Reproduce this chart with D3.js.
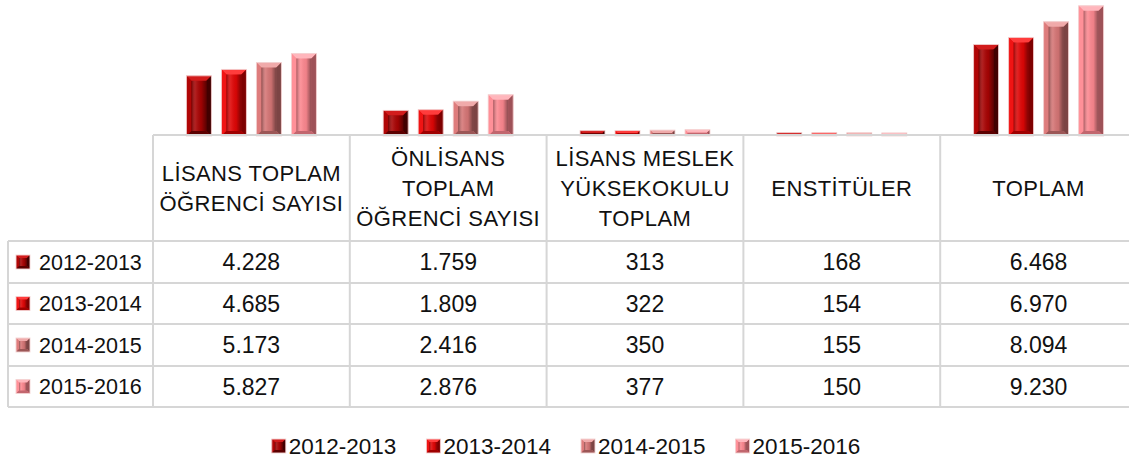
<!DOCTYPE html>
<html>
<head>
<meta charset="utf-8">
<title>Öğrenci Sayıları</title>
<script src="https://d3js.org/d3.v7.min.js"></script>
<style>
  body { margin: 0; background: #fff; }
  text { font-family: "Liberation Sans", Arial, sans-serif; fill: #111; }
</style>
</head>
<body>
<div id="chart"></div>
<script>
// data
const categories = [
  ["LİSANS TOPLAM", "ÖĞRENCİ SAYISI"],
  ["ÖNLİSANS", "TOPLAM", "ÖĞRENCİ SAYISI"],
  ["LİSANS MESLEK", "YÜKSEKOKULU", "TOPLAM"],
  ["ENSTİTÜLER"],
  ["TOPLAM"]
];
const years = ["2012-2013", "2013-2014", "2014-2015", "2015-2016"];
const v2012 = [4228, 1759, 313, 168, 6468];
const v2013 = [4685, 1809, 322, 154, 6970];
const v2014 = [5173, 2416, 350, 155, 8094];
const v2015 = [5827, 2876, 377, 150, 9230];
const series = [v2012, v2013, v2014, v2015];

// bevel colours per series: face, top, left, right, bottom
const palette = [
  {face: "#a80303", top: "#d21c1c", left: "#b00606", right: "#420000", bottom: "#5c0000"},
  {face: "#e00606", top: "#ff3c3c", left: "#f01414", right: "#7e0000", bottom: "#a00000"},
  {face: "#d67676", top: "#f0aaaa", left: "#de7c7c", right: "#7c4444", bottom: "#9c5656"},
  {face: "#fd8890", top: "#ffb6bc", left: "#ff9098", right: "#9e5258", bottom: "#c2666e"}
];

const W = 1129, H = 461;
const base = 135, tableRight = 1137, tableLeft = 153, labelLeft = 8;
const rowTops = [241, 283, 324, 366, 407];
const tr = d3.formatLocale({decimal: ",", thousands: ".", grouping: [3], currency: ["", ""]});
const fmt = tr.format(",d");

const svg = d3.select("#chart").append("svg")
  .attr("width", W).attr("height", H);

const x0 = d3.scaleBand()
  .domain(d3.range(categories.length))
  .range([tableLeft, tableRight]);

const bw = x0.bandwidth();
const x1 = d3.scaleBand()
  .domain(d3.range(years.length))
  .range([bw / 2 - 65, bw / 2 + 65])
  .paddingInner(0.286);

const y = d3.scaleLinear()
  .domain([0, 10000])
  .range([base, -5]);

function bevelBox(g, x, yTop, w, h, c, bv) {
  const b = Math.min(bv, h / 2, w / 2);
  const x2 = x + w, y2 = yTop + h;
  g.append("rect").attr("x", x).attr("y", yTop).attr("width", w).attr("height", h).attr("fill", c.face);
  const poly = (pts, fill) => g.append("polygon")
    .attr("points", pts.map(p => p.join(",")).join(" ")).attr("fill", fill);
  poly([[x, yTop], [x2, yTop], [x2 - b, yTop + b], [x + b, yTop + b]], c.top);
  poly([[x, yTop], [x + b, yTop + b], [x + b, y2 - b], [x, y2]], c.left);
  poly([[x2, yTop], [x2, y2], [x2 - b, y2 - b], [x2 - b, yTop + b]], c.right);
  poly([[x, y2], [x + b, y2 - b], [x2 - b, y2 - b], [x2, y2]], c.bottom);
  // inner face shading
  if (h > 2 * b + 2) {
    g.append("rect")
      .attr("x", x + b).attr("y", yTop + b)
      .attr("width", w - 2 * b).attr("height", h - 2 * b)
      .attr("fill", "url(#shade)");
  }
  g.append("rect").attr("x", x).attr("y", yTop).attr("width", w).attr("height", h)
    .attr("fill", "none").attr("stroke", "#f4d4d4").attr("stroke-width", 0.9);
}

const defs = svg.append("defs");
const grad = defs.append("linearGradient").attr("id", "shade").attr("x1", 0).attr("x2", 1);
grad.append("stop").attr("offset", 0).attr("stop-color", "#000").attr("stop-opacity", 0.35);
grad.append("stop").attr("offset", 0.3).attr("stop-color", "#fff").attr("stop-opacity", 0.1);
grad.append("stop").attr("offset", 0.65).attr("stop-color", "#000").attr("stop-opacity", 0.05);
grad.append("stop").attr("offset", 1).attr("stop-color", "#000").attr("stop-opacity", 0.45);

// bars
const bars = svg.append("g");
series.forEach((vals, si) => {
  vals.forEach((v, ci) => {
    const bx = x0(ci) + x1(si);
    const top = y(v);
    bevelBox(bars, bx, top, x1.bandwidth(), base - top + 1, palette[si], 5);
  });
});

// table grid
const grid = svg.append("g").attr("stroke", "#d6d6d6").attr("stroke-width", 2);
grid.append("line").attr("x1", tableLeft).attr("x2", tableRight).attr("y1", base).attr("y2", base);
rowTops.forEach(r => {
  grid.append("line").attr("x1", labelLeft).attr("x2", tableRight).attr("y1", r).attr("y2", r);
});
d3.range(categories.length + 1).forEach(i => {
  const xx = i < categories.length ? x0(i) : tableRight;
  grid.append("line").attr("x1", xx).attr("x2", xx).attr("y1", base).attr("y2", rowTops[rowTops.length - 1]);
});
grid.append("line").attr("x1", labelLeft).attr("x2", labelLeft)
  .attr("y1", rowTops[0]).attr("y2", rowTops[rowTops.length - 1]);

// header labels
const headMid = (base + rowTops[0]) / 2;
categories.forEach((lines, ci) => {
  const t = svg.append("text")
    .attr("text-anchor", "middle")
    .attr("font-size", 22)
    .attr("letter-spacing", 0.4);
  lines.forEach((ln, li) => {
    t.append("tspan")
      .attr("x", x0(ci) + bw / 2)
      .attr("y", headMid + (li - (lines.length - 1) / 2) * 30)
      .attr("dy", "0.36em")
      .text(ln);
  });
});

// rows
years.forEach((yr, si) => {
  const mid = (rowTops[si] + rowTops[si + 1]) / 2;
  bevelBox(svg.append("g"), 16, mid - 7, 14, 14, palette[si], 3);
  svg.append("text")
    .attr("x", 39).attr("y", mid).attr("dy", "0.36em")
    .attr("font-size", 21.5)
    .text(yr);
  series[si].forEach((v, ci) => {
    svg.append("text")
      .attr("x", x0(ci) + bw / 2).attr("y", mid).attr("dy", "0.36em")
      .attr("text-anchor", "middle")
      .attr("font-size", 23)
      .text(fmt(v));
  });
});

// legend
const legend = svg.append("g");
let lx = 0;
const gap = 30;
years.forEach((yr, si) => {
  const g = legend.append("g").attr("transform", `translate(${lx},0)`);
  bevelBox(g, 0, -7, 14, 14, palette[si], 3);
  const t = g.append("text").attr("x", 17).attr("y", 0).attr("dy", "0.36em")
    .attr("font-size", 22.5).text(yr);
  lx += 17 + t.node().getComputedTextLength() + gap;
});
lx -= gap;
legend.attr("transform", `translate(${566 - lx / 2},446)`);
</script>
</body>
</html>
